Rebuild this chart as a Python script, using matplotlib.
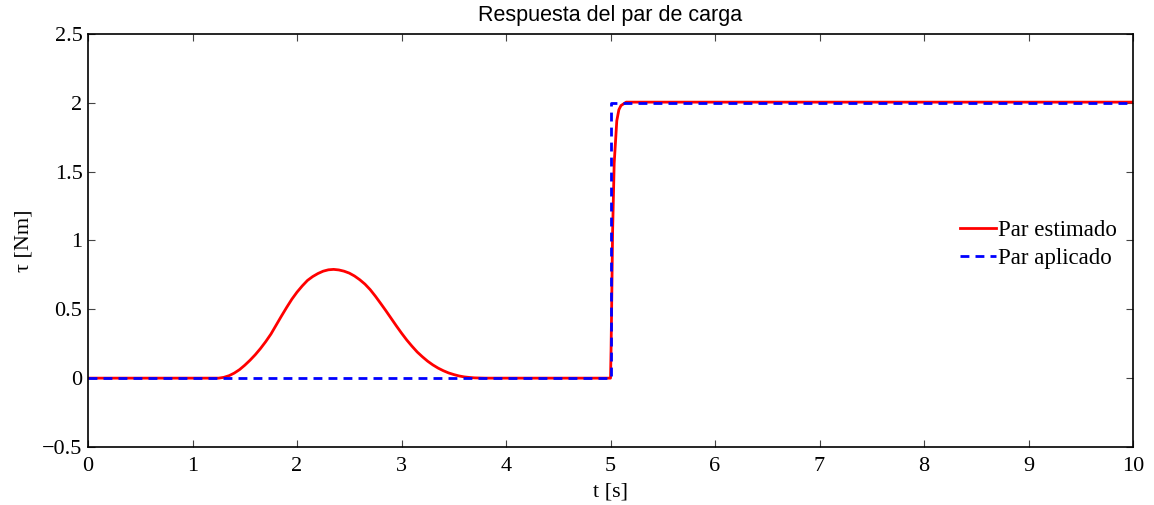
import numpy as np
import matplotlib.pyplot as plt

# par estimado (leido de la simulacion)
t_est = [0.0, 1.25, 1.3, 1.35, 1.4, 1.45, 1.5, 1.55, 1.6, 1.65, 1.7, 1.75,
         1.8, 1.85, 1.9, 1.95, 2.0, 2.05, 2.1, 2.15, 2.2, 2.25, 2.3, 2.35,
         2.4, 2.45, 2.5, 2.55, 2.6, 2.65, 2.7, 2.75, 2.8, 2.85, 2.9, 2.95,
         3.0, 3.05, 3.1, 3.15, 3.2, 3.25, 3.3, 3.35, 3.4, 3.45, 3.5, 3.55,
         3.6, 3.65, 3.7, 3.8, 5.0, 5.005, 5.01, 5.02, 5.035, 5.06, 5.08,
         5.1, 5.15, 10.0]
tau_est = [0.0, 0.0, 0.006, 0.018, 0.037, 0.062, 0.094, 0.13, 0.17, 0.215,
           0.265, 0.32, 0.385, 0.45, 0.513, 0.573, 0.625, 0.67, 0.71, 0.738,
           0.76, 0.777, 0.787, 0.79, 0.786, 0.777, 0.763, 0.742, 0.715,
           0.683, 0.643, 0.595, 0.543, 0.49, 0.435, 0.38, 0.327, 0.277,
           0.232, 0.19, 0.155, 0.123, 0.096, 0.073, 0.054, 0.038, 0.026,
           0.016, 0.009, 0.005, 0.002, 0.0, 0.0, 0.2, 0.47, 1.07, 1.56, 1.87,
           1.95, 1.98, 2.005, 2.005]

# par aplicado (escalon en t = 5 s)
t_apl = [0.0, 5.0, 5.0, 10.0]
tau_apl = [0.0, 0.0, 2.0, 2.0]

xticks = np.arange(0, 11, 1)
yticks = [-0.5, 0, 0.5, 1, 1.5, 2, 2.5]
ytick_labels = ['\u22120.5', '0', '0.5', '1', '1.5', '2', '2.5']

plt.rcParams['font.family'] = ['Liberation Serif', 'DejaVu Serif']

fig = plt.figure(figsize=(11.54, 5.05), dpi=100)
ax = fig.add_axes([0.0763, 0.1149, 0.9055, 0.8178])

ax.plot(t_est, tau_est, color='red', lw=2, label='Par estimado')
ax.plot(t_apl, tau_apl, color='blue', lw=2, ls=(0, (3.2, 2.2)), label='Par aplicado')

ax.set_xlim(0, 10)
ax.set_ylim(-0.5, 2.5)
ax.set_xticks(xticks)
ax.set_yticks(yticks)
ax.set_yticklabels(ytick_labels)
ax.tick_params(direction='in', length=5, width=0.8, labelsize=16,
               top=True, right=True, color='#444444')
ax.tick_params(axis='x', pad=7)
ax.tick_params(axis='y', pad=4)
for s in ax.spines.values():
    s.set_linewidth(1.2)

ax.set_xlabel('t [s]', fontsize=16, labelpad=5)
ax.set_ylabel('\u03c4 [Nm]', fontsize=16, labelpad=6)
ax.set_title('Respuesta del par de carga', fontsize=15.5, family='Liberation Sans', pad=9)

ax.legend(loc='center right', bbox_to_anchor=(0.985, 0.49), frameon=False,
          fontsize=16.5, handlelength=1.55, handletextpad=0.12, labelspacing=0.3,
          borderpad=0.0, borderaxespad=0.0)

plt.savefig('out.png', dpi=100)
